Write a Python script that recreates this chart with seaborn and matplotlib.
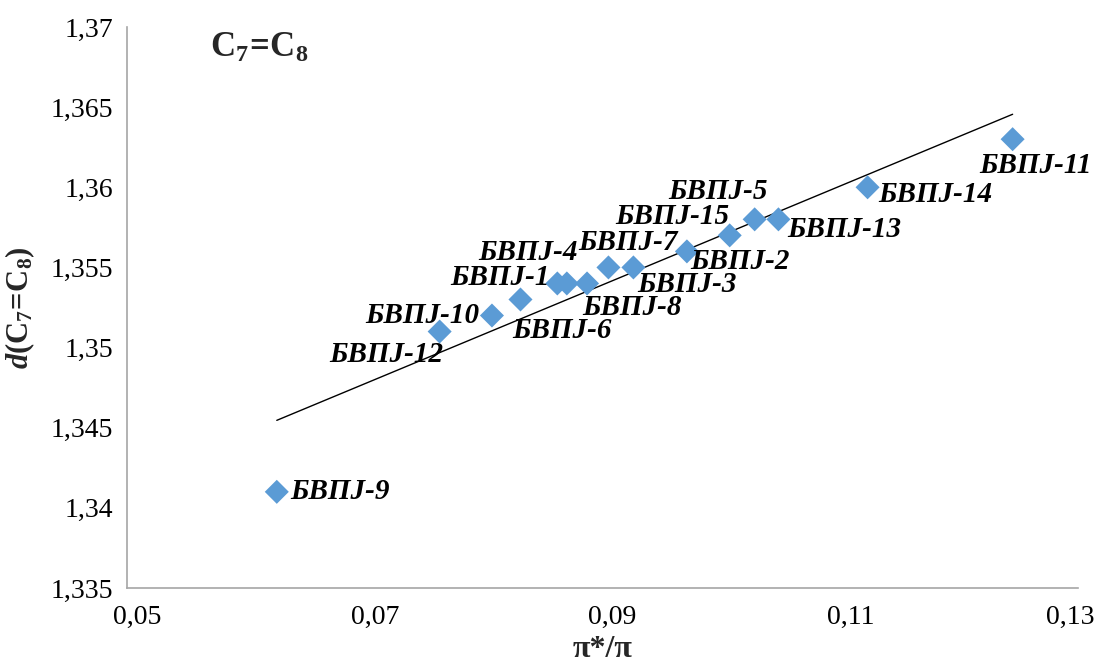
import numpy as np
import pandas as pd
import matplotlib
matplotlib.use("Agg")
import matplotlib.pyplot as plt
from matplotlib.ticker import FuncFormatter, MultipleLocator
import matplotlib.transforms as mtransforms
import seaborn as sns

# ---- data ----
labels = ["БВПJ-9", "БВПJ-12", "БВПJ-10", "БВПJ-6", "БВПJ-1", "БВПJ-4", "БВПJ-8",
          "БВПJ-7", "БВПJ-3", "БВПJ-2", "БВПJ-15", "БВПJ-5", "БВПJ-13", "БВПJ-14", "БВПJ-11"]
pi_ratio = [0.0626, 0.0763, 0.0807, 0.0831, 0.0862, 0.0870, 0.0887,
            0.0905, 0.0926, 0.0971, 0.1007, 0.1028, 0.1048, 0.1123, 0.1245]
bond_len = [1.341, 1.351, 1.352, 1.353, 1.354, 1.354, 1.354,
            1.355, 1.355, 1.356, 1.357, 1.358, 1.358, 1.360, 1.363]
# label offsets in pixels (dx right, dy down) relative to each point
label_dx = [63, -53, -70, 42, -57, -39, 45, 20, 54, 53, -57, -37, 66, 68, 23]
label_dy = [0, 23, 0, 31, -6, -31, 24, -25, 17, 10, -19, -28, 10, 7, 26]

x_ticks = [0.05, 0.07, 0.09, 0.11, 0.13]

df = pd.DataFrame({"x": pi_ratio, "y": bond_len, "label": labels})

sns.set_theme(style="white")
plt.rcParams["font.family"] = ["Liberation Serif", "DejaVu Serif"]
plt.rcParams["mathtext.fontset"] = "custom"
plt.rcParams["mathtext.rm"] = "Liberation Serif"
plt.rcParams["mathtext.it"] = "Liberation Serif:italic"
plt.rcParams["mathtext.bf"] = "Liberation Serif:bold"
plt.rcParams["mathtext.bfit"] = "Liberation Serif:bold:italic"

fig = plt.figure(figsize=(10.99, 6.71), dpi=100)
ax = fig.add_axes([127 / 1099, 1 - 588 / 671, (1078 - 127) / 1099, (588 - 27) / 671])

sns.regplot(data=df, x="x", y="y", scatter=False, ci=None, truncate=True,
            line_kws=dict(color="black", lw=1.0), ax=ax)
sns.scatterplot(data=df, x="x", y="y", marker="D", s=150, color="#5B9BD5",
                edgecolor="none", ax=ax, zorder=3)

pt = 72 / fig.dpi
for xi, yi, lab, dx, dy in zip(pi_ratio, bond_len, labels, label_dx, label_dy):
    ax.annotate(lab, (xi, yi), xytext=(dx * pt, -dy * pt), textcoords="offset points",
                ha="center", va="center", fontsize=21, fontweight="bold",
                fontstyle="italic", color="black")

ax.set_xlim(0.05, 0.13)
ax.set_ylim(1.335, 1.37)
ax.set_xticks(x_ticks)
ax.yaxis.set_major_locator(MultipleLocator(0.005))
fmt = lambda v, p: f"{v:g}".replace(".", ",")
ax.xaxis.set_major_formatter(FuncFormatter(fmt))
ax.yaxis.set_major_formatter(FuncFormatter(fmt))
ax.tick_params(axis="both", length=0, labelsize=20, colors="black")
ax.tick_params(axis="x", pad=12)
ax.tick_params(axis="y", pad=10)

fig.canvas.draw()
xt = ax.get_xticklabels()
for i, t in enumerate(xt):
    shift = 10 if i < len(xt) - 1 else -8
    t.set_transform(t.get_transform() + mtransforms.ScaledTranslation(shift / 100, 0, fig.dpi_scale_trans))

for s in ["top", "right"]:
    ax.spines[s].set_visible(False)
for s in ["left", "bottom"]:
    ax.spines[s].set_color("#A6A6A6")
    ax.spines[s].set_linewidth(1.2)
ax.grid(False)

ax.set_xlabel("π*/π", fontsize=23, fontweight="bold", labelpad=4)
ax.set_ylabel(r"$\mathbfit{d}\mathbf{(C_7\!=\!C_8)}$", fontsize=22, labelpad=10)

ax.text(210, 671 - 48, r"$\mathbf{C_7\!=\!C_8}$", transform=None, fontsize=25,
        ha="left", va="center")

fig.savefig("out.png", dpi=100)
